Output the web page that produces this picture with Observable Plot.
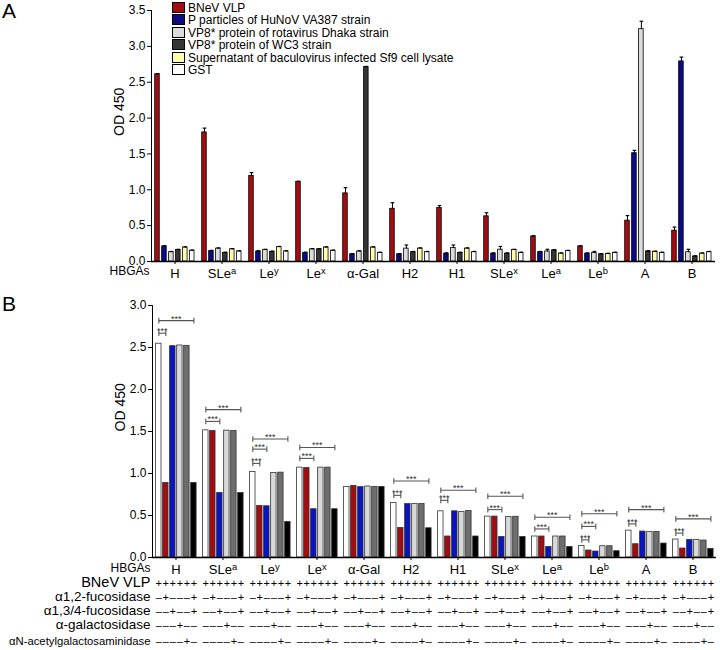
<!DOCTYPE html>
<html><head><meta charset="utf-8">
<script src="https://cdn.jsdelivr.net/npm/d3@7"></script>
<script src="https://cdn.jsdelivr.net/npm/@observablehq/plot@0.6"></script>
<style>
body{margin:0;background:#fff;font-family:"Liberation Sans",Arial,sans-serif;}
#wrap{position:relative;width:720px;height:650px;overflow:hidden;background:#fff}
#wrap svg{display:block}
.letter{position:absolute;font-size:21px;line-height:21px;color:#000}
.legend{position:absolute;left:172px;top:2px;font-size:12px;line-height:12.4px;color:#000;white-space:nowrap}
.legend .sw{display:inline-block;width:11px;height:9px;border:1px solid #000;margin-right:3px;vertical-align:-1px}
</style></head>
<body><div id="wrap"><div id="pa"></div><div id="pb"></div></div>
<script>
// ---------- shared categories ----------
const groups = ["H","SLe^a","Le^y","Le^x","α-Gal","H2","H1","SLe^x","Le^a","Le^b","A","B"];

// ---------- panel A ----------
const seriesA = ["BNeV VLP","P particles of HuNoV VA387 strain","VP8* protein of rotavirus Dhaka strain","VP8* protein of WC3 strain","Supernatant of baculovirus infected Sf9 cell lysate","GST"];
const colorsA = ["#a30d12","#0b0b86","#dcdcdc","#353535","#ffffaa","#ffffff"];
const bnevA   = [2.61,1.80,1.195,1.11,0.95,0.735,0.745,0.63,0.35,0.21,0.57,0.43];
const ppartA  = [0.21,0.145,0.14,0.12,0.10,0.10,0.11,0.11,0.13,0.11,1.51,2.79];
const dhakaA  = [0.13,0.18,0.16,0.17,0.14,0.18,0.19,0.165,0.14,0.12,3.24,0.13];
const wc3A    = [0.16,0.12,0.135,0.17,2.71,0.13,0.12,0.11,0.155,0.10,0.14,0.07];
const supA    = [0.195,0.17,0.20,0.195,0.195,0.18,0.18,0.16,0.11,0.105,0.135,0.11];
const gstA    = [0.15,0.14,0.14,0.15,0.12,0.13,0.13,0.12,0.145,0.12,0.12,0.13];
const bnevErrA  = [0.01,0.06,0.045,0.01,0.08,0.085,0.035,0.05,0.01,0.01,0.07,0.05];
const ppartErrA = [0.01,0.01,0.01,0.01,0.01,0.01,0.01,0.01,0.01,0.01,0.04,0.06];
const dhakaErrA = [0.01,0.01,0.01,0.01,0.01,0.05,0.04,0.045,0.03,0.02,0.11,0.04];
const wc3ErrA   = [0.01,0.01,0.01,0.01,0.01,0.01,0.01,0.01,0.01,0.01,0.01,0.01];
const supErrA   = [0.01,0.01,0.01,0.01,0.01,0.01,0.01,0.01,0.01,0.01,0.01,0.01];
const gstErrA   = [0.01,0.01,0.01,0.01,0.01,0.01,0.01,0.01,0.01,0.01,0.01,0.01];
const yTicksA = [0,0.5,1.0,1.5,2.0,2.5,3.0,3.5];

// ---------- panel B ----------
const seriesB = ["untreated","α1,2-fucosidase","α1,3/4-fucosidase","α-galactosidase","αN-acetylgalactosaminidase","α1,2 + α1,3/4-fucosidase"];
const colorsB = ["#ffffff","#a30d12","#0a14c0","#d9d9d9","#6e6e6e","#000000"];
const untreatedB = [2.545,1.514,1.018,1.07,0.84,0.65,0.55,0.487,0.25,0.138,0.32,0.214];
const fuc12B     = [0.887,1.505,0.614,1.065,0.852,0.352,0.25,0.487,0.25,0.083,0.158,0.107];
const fuc134B    = [2.516,0.768,0.61,0.575,0.838,0.637,0.55,0.245,0.126,0.071,0.309,0.21];
const galB       = [2.524,1.51,1.006,1.07,0.845,0.637,0.543,0.483,0.25,0.134,0.305,0.21];
const galnacB    = [2.52,1.505,1.01,1.07,0.84,0.637,0.553,0.485,0.25,0.134,0.305,0.202];
const bothB      = [0.887,0.768,0.424,0.575,0.84,0.348,0.25,0.245,0.126,0.075,0.166,0.103];
const yTicksB = [0,0.5,1.0,1.5,2.0,2.5,3.0];

// significance brackets (from bar index to bar index, at height)
const bracketGroup = ["H","H","SLe^a","SLe^a","Le^y","Le^y","Le^y","Le^x","Le^x","H2","H2","H1","H1","SLe^x","SLe^x","Le^a","Le^a","Le^b","Le^b","Le^b","A","A","B","B"];
const bracketFrom  = [0,0,0,0,0,0,0,0,0,0,0,0,0,0,0,0,0,0,0,0,0,0,0,0];
const bracketTo    = [1,5,2,5,1,2,5,2,5,1,5,1,5,2,5,2,5,1,2,5,1,5,1,5];
const bracketY     = [2.67,2.82,1.62,1.76,1.12,1.29,1.41,1.18,1.31,0.74,0.91,0.68,0.80,0.57,0.73,0.34,0.48,0.21,0.37,0.52,0.40,0.57,0.29,0.46];

// enzyme treatment table
const enzymeRows  = ["BNeV VLP","α1,2-fucosidase","α1,3/4-fucosidase","α-galactosidase","αN-acetylgalactosaminidase"];
const enzymeSigns = ["++++++","-+---+","--+--+","---+--","----+-"];

// ---------- build tables ----------
const valuesA = [bnevA,ppartA,dhakaA,wc3A,supA,gstA];
const errA = [bnevErrA,ppartErrA,dhakaErrA,wc3ErrA,supErrA,gstErrA];
const rowsA = seriesA.flatMap((name,s)=>groups.map((g,gi)=>({group:g,s,name,v:valuesA[s][gi],e:errA[s][gi]})));
const valuesB = [untreatedB,fuc12B,fuc134B,galB,galnacB,bothB];
const rowsB = seriesB.flatMap((name,s)=>groups.map((g,gi)=>({group:g,s,name,v:valuesB[s][gi]})));
const brackets = bracketGroup.map((g,i)=>({g,a:bracketFrom[i],b:bracketTo[i],y:bracketY[i]}));
const bracketEnds = brackets.flatMap(d=>[{g:d.g,x:d.a+0.5,y:d.y},{g:d.g,x:d.b+0.5,y:d.y}]);

const vcap = {draw(ctx,size){const h=Math.sqrt(size/Math.PI);ctx.moveTo(0,-h);ctx.lineTo(0,h);}};
const hcap = {draw(ctx,size){const w=Math.sqrt(size/Math.PI);ctx.moveTo(-w,0);ctx.lineTo(w,0);}};

const font = '"Liberation Sans", Arial, sans-serif';
const baseStyle = {fontFamily: font, fontSize: "12px", color: "#000", background: "#fff", overflow: "visible"};

function supify(svg){
  d3.select(svg).selectAll("text").each(function(){
    const t = this.textContent;
    if (!t || !t.includes("^") || this.children.length) return;
    const [base, sup] = t.split("^");
    const sel = d3.select(this); sel.text(null);
    sel.append("tspan").text(base);
    sel.append("tspan").attr("dy","-0.45em").style("font-size","72%").text(sup);
  });
}
function leftText(text, opts){ return Plot.text([{t:text,g:"H"}], {fx:"g", text:"t", fill:"#000", ...opts}); }

// ---------- Plot A ----------
const plotA = Plot.plot({
  width: 720, height: 285, marginTop: 10, marginBottom: 24, marginLeft: 149, marginRight: 3,
  style: baseStyle,
  fx: {domain: groups, padding: 0},
  x: {domain: [-0.36, 6.4], axis: null},
  y: {domain: [0, 3.5], ticks: yTicksA, tickFormat: ".1f", line: true, label: null, tickSize: 4, tickPadding: 2},
  color: {domain: seriesA, range: colorsA},
  marks: [
    Plot.rect(rowsA, {fx:"group", x1:"s", x2:d=>d.s+1, y1:0, y2:"v", fill:"name", stroke:"#000", strokeWidth:0.8, insetLeft:1.2, insetRight:1.2}),
    Plot.link(rowsA, {fx:"group", x1:d=>d.s+0.5, x2:d=>d.s+0.5, y1:"v", y2:d=>d.v+d.e, stroke:"#000", strokeWidth:1}),
    Plot.dot(rowsA, {fx:"group", x:d=>d.s+0.5, y:d=>d.v+d.e, symbol:hcap, r:1.8, stroke:"#000", fill:"none", strokeWidth:1.2}),
    Plot.ruleY([0], {stroke:"#000", strokeWidth:1.3}),
    Plot.axisFx({anchor:"bottom", tickSize:3, tickPadding:4, fontSize:13, label:null, tickFormat:d=>d}),
    leftText("HBGAs", {frameAnchor:"bottom-left", textAnchor:"end", dx:-2, dy:13, fontSize:12}),
    leftText("OD 450", {frameAnchor:"left", rotate:-90, dx:-32, fontSize:14})
  ]
});
supify(plotA);
document.getElementById("pa").appendChild(plotA);

// ---------- Plot B ----------
const rowDy = [29, 43, 57, 71.5, 87];
const signMarks = enzymeRows.map((row, r) => {
  const data = groups.flatMap(g => d3.range(6).map(s => ({g, s, t: enzymeSigns[r][s] === "+" ? "+" : "–"})));
  return Plot.text(data, {fx:"g", x:d=>d.s+0.5, text:"t", frameAnchor:"bottom", dy:rowDy[r], fontSize:11, fill:"#000"});
});
const rowLabelMarks = enzymeRows.map((row, r) => {
  const fs = [14.5, 13.5, 13.5, 13.5, 11.3][r];
  return leftText(row, {frameAnchor:"bottom-left", textAnchor:"end", dx:-2, dy:rowDy[r], fontSize:fs});
});

const plotB = Plot.plot({
  width: 720, height: 365, marginTop: 20, marginBottom: 93, marginLeft: 149, marginRight: 1,
  style: baseStyle,
  fx: {domain: groups, padding: 0},
  x: {domain: [-0.4, 6.3], axis: null},
  y: {domain: [0, 3.0], ticks: yTicksB, tickFormat: ".1f", line: true, label: null, tickSize: 4, tickPadding: 2},
  color: {domain: seriesB, range: colorsB},
  marks: [
    Plot.rect(rowsB, {fx:"group", x1:"s", x2:d=>d.s+1, y1:0, y2:"v", fill:"name", stroke:"#333", strokeWidth:0.8, insetLeft:0.8, insetRight:0.8}),
    Plot.ruleY([0], {stroke:"#000", strokeWidth:1.3}),
    Plot.link(brackets, {fx:"g", x1:d=>d.a+0.5, x2:d=>d.b+0.5, y1:"y", y2:"y", stroke:"#555", strokeWidth:1.1}),
    Plot.dot(bracketEnds, {fx:"g", x:"x", y:"y", symbol:vcap, r:2.8, stroke:"#555", fill:"none", strokeWidth:1.1}),
    Plot.text(brackets, {fx:"g", x:d=>(d.a+d.b)/2+0.5, y:"y", text:()=>"***", dy:-2, fontSize:9, fill:"#333"}),
    Plot.axisFx({anchor:"bottom", tickSize:3, tickPadding:4, fontSize:13, label:null, tickFormat:d=>d}),
    leftText("HBGAs", {frameAnchor:"bottom-left", textAnchor:"end", dx:-2, dy:14, fontSize:12}),
    leftText("OD 450", {frameAnchor:"left", rotate:-90, dx:-32, fontSize:14}),
    ...rowLabelMarks,
    ...signMarks
  ]
});
supify(plotB);
document.getElementById("pb").appendChild(plotB);

// ---------- overlays: legend and panel letters ----------
const wrap = document.getElementById("wrap");
const lg = document.createElement("div"); lg.className = "legend";
seriesA.forEach((name,i)=>{
  const row = document.createElement("div");
  const sw = document.createElement("span"); sw.className = "sw"; sw.style.background = colorsA[i];
  row.appendChild(sw); row.appendChild(document.createTextNode(name));
  lg.appendChild(row);
});
wrap.appendChild(lg);
[["A",0],["B",293]].forEach(([t,top])=>{
  const d = document.createElement("div"); d.className="letter"; d.textContent=t;
  d.style.left="2px"; d.style.top=top+"px"; wrap.appendChild(d);
});
</script></body></html>
